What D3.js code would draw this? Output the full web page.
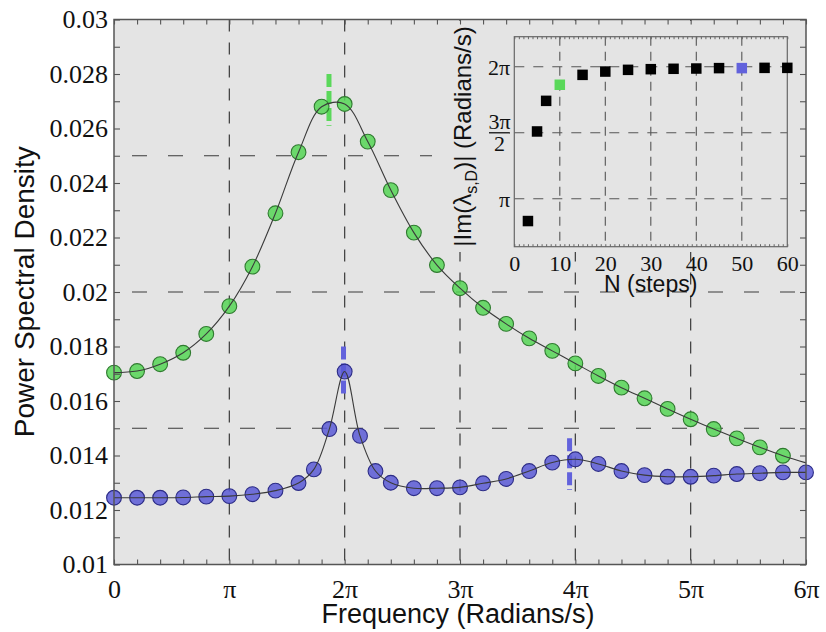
<!DOCTYPE html>
<html><head><meta charset="utf-8">
<script src="https://cdn.jsdelivr.net/npm/d3@7"></script>
<style>body{margin:0;background:#fff}</style>
</head><body>
<svg id="c" width="826" height="632"></svg>
<script>
// ---------------- DATA ----------------
// main plot: frequency in units of π
const greenFreq = [0,0.2,0.4,0.6,0.8,1.0,1.2,1.4,1.6,1.8,2.0,2.2,2.4,2.6,2.8,3.0,3.2,3.4,3.6,3.8,4.0,4.2,4.4,4.6,4.8,5.0,5.2,5.4,5.6,5.8];
const greenPSD  = [0.01704,0.01710,0.01735,0.01777,0.01846,0.01948,0.02093,0.02289,0.02513,0.02680,0.02690,0.02552,0.02374,0.02218,0.02099,0.02014,0.01942,0.01883,0.01830,0.01784,0.01738,0.01692,0.01649,0.01610,0.01571,0.01533,0.01497,0.01463,0.01430,0.01399];
const greenCurveTail = [[6.0, 0.01373]];
const blueFreq = [0,0.2,0.4,0.6,0.8,1.0,1.2,1.4,1.6,1.733,1.867,2.0,2.133,2.267,2.4,2.6,2.8,3.0,3.2,3.4,3.6,3.8,4.0,4.2,4.4,4.6,4.8,5.0,5.2,5.4,5.6,5.8,6.0];
const bluePSD  = [0.01245,0.01245,0.01245,0.01246,0.01249,0.01251,0.01258,0.01271,0.01299,0.01349,0.01497,0.01708,0.01472,0.01343,0.01300,0.01280,0.01280,0.01283,0.01298,0.01314,0.01343,0.01374,0.01386,0.01369,0.01343,0.01328,0.01322,0.01322,0.01326,0.01332,0.01335,0.01338,0.01338];
// peak markers: series, frequency (π units), low PSD, high PSD
const markerSeries = ["green","blue","blue"];
const markerFreq   = [1.864, 1.99, 3.95];
const markerLow    = [0.0261, 0.0162, 0.01273];
const markerHigh   = [0.0280, 0.0180, 0.01463];

const xTickVals   = [0,1,2,3,4,5,6];
const xTickLabels = ["0","π","2π","3π","4π","5π","6π"];
const yTickVals   = [0.01,0.012,0.014,0.016,0.018,0.02,0.022,0.024,0.026,0.028,0.03];
const yTickLabels = ["0.01","0.012","0.014","0.016","0.018","0.02","0.022","0.024","0.026","0.028","0.03"];
const xGridVals = [1,2,3,4,5];
const yGridVals = [0.015,0.02,0.025];

// inset: |Im(lambda)| in units of π vs N
const insetN      = [3,5,7,10,15,20,25,30,35,40,45,50,55,60];
const insetImPi   = [0.831,1.51,1.742,1.864,1.939,1.964,1.977,1.982,1.985,1.987,1.99,1.99,1.992,1.992];
const insetSeries = ["black","black","black","green","black","black","black","black","black","black","black","blue","black","black"];
const insetXTicks = [0,10,20,30,40,50,60];
const insetYTicksPi = [1,1.5,2];

// ---------------- STYLE ----------------
const colors = {
  green:{fill:"#56d656", stroke:"#2f7a2f", mark:"#5ad85a"},
  blue:{fill:"#5a5ad6", stroke:"#2c2c86", mark:"#6262dc"},
  black:{fill:"#000"}
};
const plotBg = "#e4e4e4";
const serif = "'Liberation Serif','Times New Roman',serif";
const sans  = "'Liberation Sans',Arial,sans-serif";

const svg = d3.select("#c");
const x = d3.scaleLinear().domain([0,6]).range([114,806]);
const y = d3.scaleLinear().domain([0.01,0.03]).range([564.5,19.5]);

svg.append("rect").attr("width",826).attr("height",632).attr("fill","#fff");
svg.append("rect").attr("x",x(0)).attr("y",y(0.03)).attr("width",x(6)-x(0)).attr("height",y(0.01)-y(0.03)).attr("fill",plotBg);

// main grid
const grid = svg.append("g").attr("stroke","#3a3a3a").attr("stroke-width",1.2).attr("fill","none");
grid.selectAll(".vg").data(xGridVals).join("line")
  .attr("x1",d=>x(d)).attr("x2",d=>x(d)).attr("y1",y(0.03)).attr("y2",y(0.01))
  .attr("stroke-dasharray","12,11");
grid.selectAll(".hg").data(yGridVals).join("line")
  .attr("x1",x(0)).attr("x2",x(6)).attr("y1",d=>y(d)).attr("y2",d=>y(d))
  .attr("stroke-dasharray","15,21").attr("stroke-dashoffset",18);

// ---------------- INSET ----------------
const ix = d3.scaleLinear().domain([0,60]).range([514.3,787.3]);
const iy = d3.scaleLinear().domain([2,7]).range([246.7,36.7]);
svg.append("rect").attr("x",432).attr("y",21).attr("width",806-432-1).attr("height",231).attr("fill",plotBg);
const ins = svg.append("g");
ins.selectAll(".ivg").data(insetXTicks.slice(1,-1)).join("line")
  .attr("x1",d=>ix(d)).attr("x2",d=>ix(d)).attr("y1",iy(7)).attr("y2",iy(2))
  .attr("stroke","#555").attr("stroke-width",1.1).attr("stroke-dasharray","9,6");
ins.selectAll(".ihg").data(insetYTicksPi).join("line")
  .attr("x1",ix(0)).attr("x2",ix(60)).attr("y1",d=>iy(d*Math.PI)).attr("y2",d=>iy(d*Math.PI))
  .attr("stroke","#555").attr("stroke-width",1.1).attr("stroke-dasharray","10,9");
ins.append("g").attr("transform",`translate(0,${iy(2)})`)
  .call(d3.axisBottom(ix).tickValues(d3.range(0,61,1)).tickSize(-2.5).tickFormat(""))
  .call(g=>{g.select(".domain").remove(); g.selectAll("line").attr("stroke","#666");});
ins.append("g").attr("transform",`translate(0,${iy(7)})`)
  .call(d3.axisTop(ix).tickValues(d3.range(0,61,1)).tickSize(-2.5).tickFormat(""))
  .call(g=>{g.select(".domain").remove(); g.selectAll("line").attr("stroke","#666");});
ins.append("rect").attr("x",ix(0)).attr("y",iy(7)).attr("width",ix(60)-ix(0)).attr("height",iy(2)-iy(7))
  .attr("fill","none").attr("stroke","#666").attr("stroke-width",1.2);
const sq = 10.5;
ins.selectAll(".sq").data(insetN.map((n,i)=>({n,v:insetImPi[i],s:insetSeries[i]}))).join("rect")
  .attr("x",d=>ix(d.n)-sq/2).attr("y",d=>iy(d.v*Math.PI)-sq/2).attr("width",sq).attr("height",sq)
  .attr("fill",d=>d.s==="black"?"#000":colors[d.s].mark);
ins.append("g").attr("transform",`translate(0,${iy(2)})`)
  .call(d3.axisBottom(ix).tickValues(insetXTicks).tickSize(0).tickPadding(9).tickFormat(d=>String(d)))
  .call(g=>{g.select(".domain").remove(); g.attr("font-family",null).attr("font-size",null);
    g.selectAll("text").style("font-family",serif).style("font-size","22px").attr("fill","#111");});
const iyl = ins.append("g").style("font-family",serif).style("font-size","22px").attr("fill","#111");
iyl.append("text").attr("x",510).attr("y",iy(2*Math.PI)).attr("dy","0.36em").attr("text-anchor","end").text("2π");
iyl.append("text").attr("x",510).attr("y",iy(Math.PI)).attr("dy","0.36em").attr("text-anchor","end").text("π");
iyl.append("text").attr("x",499.5).attr("y",iy(1.5*Math.PI)-4).attr("text-anchor","middle").text("3π");
iyl.append("line").attr("x1",489).attr("x2",510).attr("y1",iy(1.5*Math.PI)).attr("y2",iy(1.5*Math.PI)).attr("stroke","#111").attr("stroke-width",1.3);
iyl.append("text").attr("x",499.5).attr("y",iy(1.5*Math.PI)+18.4).attr("text-anchor","middle").text("2");
ins.append("text").attr("x",650.7).attr("y",292).attr("text-anchor","middle")
  .style("font-family",sans).style("font-size","23px").attr("fill","#111").text("N (steps)");
const it = ins.append("text").attr("transform","translate(471,136.5) rotate(-90)").attr("text-anchor","middle")
  .style("font-family",sans).style("font-size","24px").attr("fill","#111");
it.append("tspan").text("|Im(λ");
it.append("tspan").style("font-size","16px").attr("dy",6).text("s,D");
it.append("tspan").attr("dy",-6).text(")| (Radians/s)");

// ---------------- MAIN SERIES ----------------
const markers = markerFreq.map((f,i)=>({f,lo:markerLow[i],hi:markerHigh[i],s:markerSeries[i]}));
svg.append("g").selectAll("line").data(markers).join("line")
  .attr("x1",d=>x(d.f)).attr("x2",d=>x(d.f)).attr("y1",d=>y(d.hi)).attr("y2",d=>y(d.lo))
  .attr("stroke",d=>colors[d.s].mark).attr("stroke-width",5).attr("stroke-dasharray","13,4");

const greenPts = greenFreq.map((f,i)=>[f,greenPSD[i]]);
const bluePts = blueFreq.map((f,i)=>[f,bluePSD[i]]);
const line = d3.line().x(d=>x(d[0])).y(d=>y(d[1])).curve(d3.curveCatmullRom.alpha(0.5));

function dots(pts, c){
  svg.append("g").selectAll("circle").data(pts).join("circle")
    .attr("cx",d=>x(d[0])).attr("cy",d=>y(d[1])).attr("r",7.4)
    .attr("fill",c.fill).attr("fill-opacity",0.85).attr("stroke",c.stroke).attr("stroke-width",1.1);
}
dots(greenPts, colors.green);
dots(bluePts, colors.blue);
svg.append("path").datum(greenPts.concat(greenCurveTail)).attr("d",line).attr("fill","none").attr("stroke","#3a3a3a").attr("stroke-width",1.1);
svg.append("path").datum(bluePts).attr("d",line).attr("fill","none").attr("stroke","#3a3a3a").attr("stroke-width",1.1);

// ---------------- MAIN AXES ----------------
const tickStyle = g=>{g.select(".domain").remove(); g.selectAll("line").attr("stroke","#555").attr("stroke-width",1.1);};
svg.append("g").attr("transform",`translate(0,${y(0.01)})`).call(d3.axisBottom(x).tickValues(d3.range(0,6.01,0.2)).tickSize(-5).tickFormat("")).call(tickStyle);
svg.append("g").attr("transform",`translate(0,${y(0.03)})`).call(d3.axisTop(x).tickValues(d3.range(0,6.01,0.2)).tickSize(-5).tickFormat("")).call(tickStyle);
svg.append("g").attr("transform",`translate(${x(0)},0)`).call(d3.axisLeft(y).tickValues(d3.range(0.01,0.03001,0.001)).tickSize(-6).tickFormat("")).call(tickStyle);
svg.append("g").attr("transform",`translate(${x(6)},0)`).call(d3.axisRight(y).tickValues(d3.range(0.01,0.03001,0.001)).tickSize(-6).tickFormat("")).call(tickStyle);
svg.append("rect").attr("x",x(0)).attr("y",y(0.03)).attr("width",x(6)-x(0)).attr("height",y(0.01)-y(0.03))
  .attr("fill","none").attr("stroke","#555").attr("stroke-width",1.5);

const labelStyle = g=>{g.select(".domain").remove(); g.attr("font-family",null).attr("font-size",null);
  g.selectAll("text").style("font-family",serif).style("font-size","26px").attr("fill","#111");};
svg.append("g").attr("transform",`translate(0,${y(0.01)})`)
  .call(d3.axisBottom(x).tickValues(xTickVals).tickSize(0).tickPadding(15).tickFormat((d,i)=>xTickLabels[i]))
  .call(labelStyle);
svg.append("g").attr("transform",`translate(${x(0)},0)`)
  .call(d3.axisLeft(y).tickValues(yTickVals).tickSize(0).tickPadding(6).tickFormat((d,i)=>yTickLabels[i]))
  .call(labelStyle);

svg.append("text").attr("x",458).attr("y",623).attr("text-anchor","middle")
  .style("font-family",sans).style("font-size","27px").attr("fill","#111").text("Frequency (Radians/s)");
svg.append("text").attr("transform","translate(34,291.7) rotate(-90)").attr("text-anchor","middle")
  .style("font-family",sans).style("font-size","28px").attr("fill","#111").text("Power Spectral Density");
</script>
</body></html>
